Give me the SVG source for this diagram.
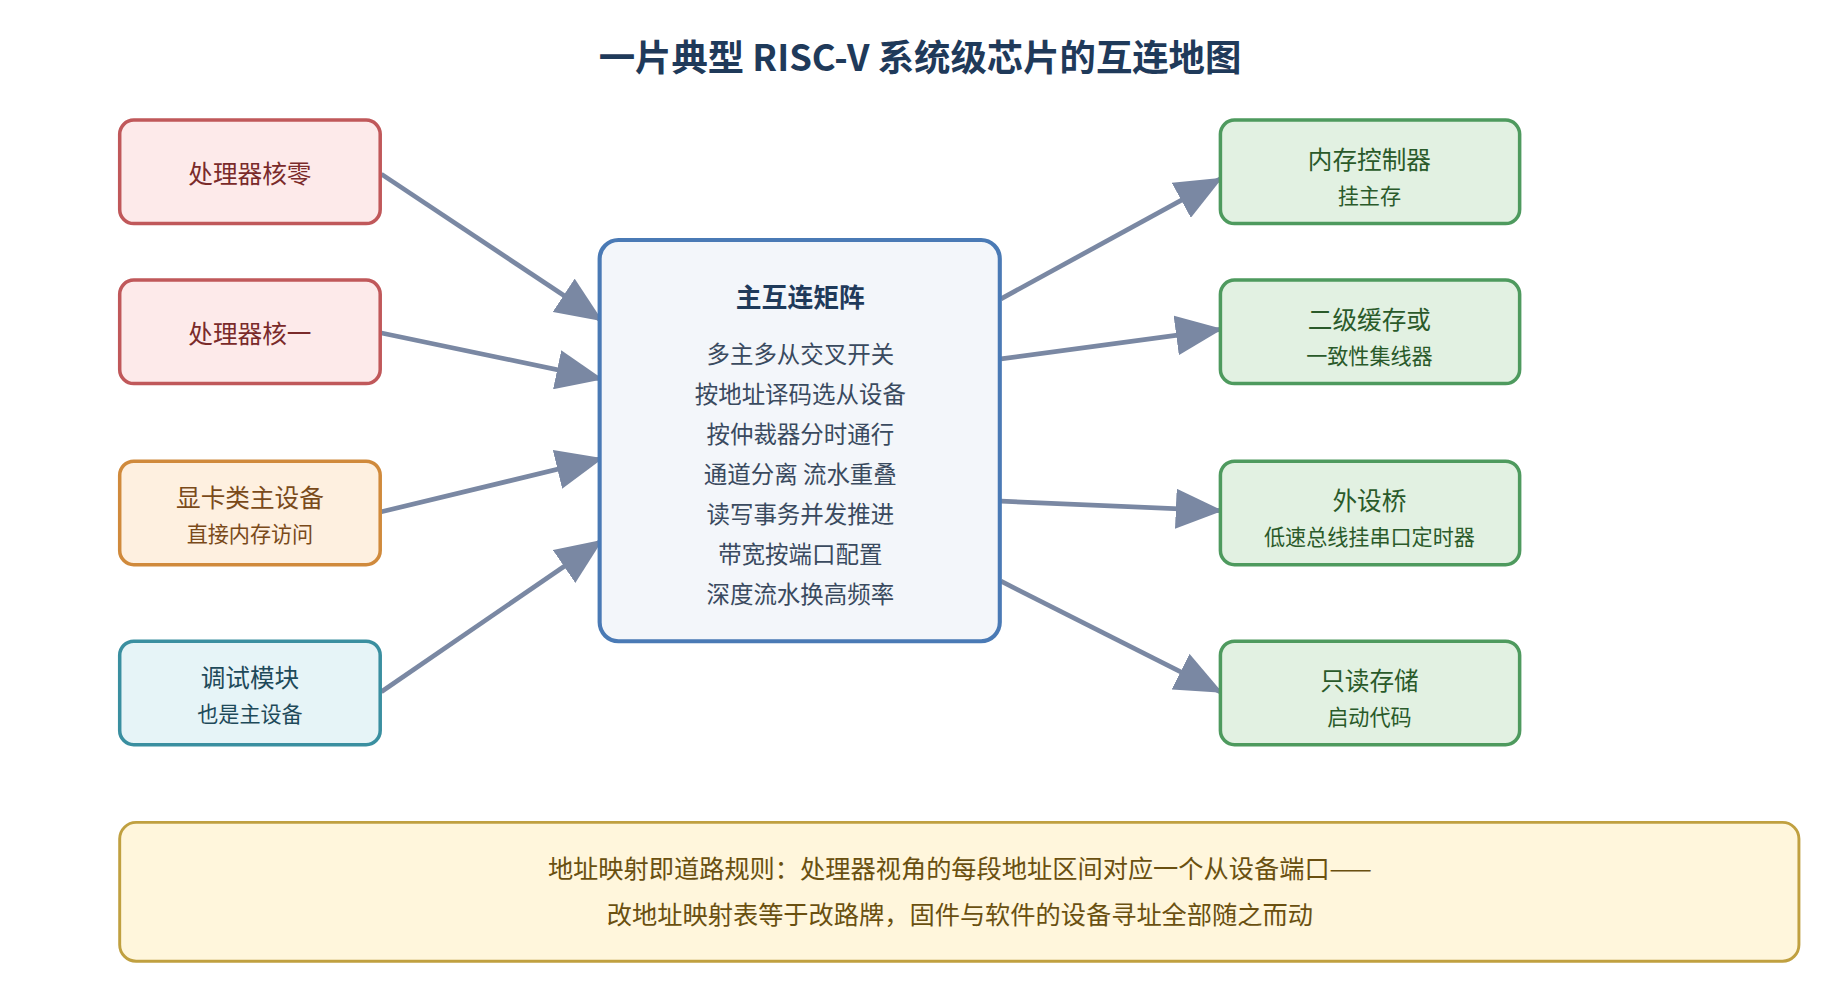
<svg xmlns="http://www.w3.org/2000/svg" width="1840" height="1000" viewBox="0 0 1840 1000">
<style>
text{font-family:"Noto Sans CJK SC","Noto Sans",sans-serif;text-anchor:middle;dominant-baseline:central}
.b{stroke-width:3}
.m{font-size:21px}.s{font-size:18px}
.r rect{fill:#fdeaea;stroke:#c0585a}.r text{fill:#7a2a2a}
.o rect{fill:#fef0e0;stroke:#d08a3c}.o text{fill:#7a4a1a}
.t rect{fill:#e6f4f7;stroke:#3a8fa0}.t text{fill:#1e4a5a}
.g rect{fill:#e2f1e2;stroke:#4e9a5e}.g text{fill:#2a5a2a}
.c{fill:#3a4a5f;font-size:20px}
.n{font-size:21.5px;fill:#6a5010}
#edges line{stroke:#7a88a3;stroke-width:4;marker-end:url(#a)}
</style>
<defs><marker id="a" markerUnits="userSpaceOnUse" markerWidth="40" markerHeight="34" refX="38" refY="17" orient="auto"><path d="M0,0 L40,17 L0,34 Z" fill="#7a88a3"/></marker></defs>
<rect width="1840" height="1000" fill="#fff"/>
<g transform="scale(1.17347 1.1765)">
<text x="784" y="47" style="font-size:31px;font-weight:bold;fill:#1f3a5a">一片典型 RISC-V 系统级芯片的互连地图</text>
<g id="edges">
<line x1="325" y1="148" x2="512" y2="272"/>
<line x1="325" y1="283" x2="512" y2="322"/>
<line x1="325" y1="435" x2="512" y2="390"/>
<line x1="325" y1="588" x2="512" y2="460"/>
<line x1="853" y1="254" x2="1040" y2="152"/>
<line x1="853" y1="305" x2="1040" y2="280"/>
<line x1="853" y1="426" x2="1040" y2="434"/>
<line x1="853" y1="494" x2="1040" y2="588"/>
</g>
<g id="core0" class="r"><rect class="b" x="102" y="102" width="222" height="88" rx="12"/><text class="m" x="213" y="146">处理器核零</text></g>
<g id="core1" class="r"><rect class="b" x="102" y="238" width="222" height="88" rx="12"/><text class="m" x="213" y="282">处理器核一</text></g>
<g id="gpu" class="o"><rect class="b" x="102" y="392" width="222" height="88" rx="12"/><text class="m" x="213" y="422">显卡类主设备</text><text class="s" x="213" y="453">直接内存访问</text></g>
<g id="debug" class="t"><rect class="b" x="102" y="545" width="222" height="88" rx="12"/><text class="m" x="213" y="575">调试模块</text><text class="s" x="213" y="606">也是主设备</text></g>
<g id="matrix"><rect x="511" y="204" width="341" height="341" rx="16" fill="#f3f6fa" stroke="#4a7ab5" stroke-width="3.5"/>
<text x="682" y="251" style="font-size:22px;font-weight:bold;fill:#1f3a5a">主互连矩阵</text>
<text class="c" x="682" y="300">多主多从交叉开关</text>
<text class="c" x="682" y="334">按地址译码选从设备</text>
<text class="c" x="682" y="368">按仲裁器分时通行</text>
<text class="c" x="682" y="402">通道分离 流水重叠</text>
<text class="c" x="682" y="436">读写事务并发推进</text>
<text class="c" x="682" y="470">带宽按端口配置</text>
<text class="c" x="682" y="504">深度流水换高频率</text></g>
<g id="mem" class="g"><rect class="b" x="1040" y="102" width="255" height="88" rx="12"/><text class="m" x="1167" y="134">内存控制器</text><text class="s" x="1167" y="165">挂主存</text></g>
<g id="l2" class="g"><rect class="b" x="1040" y="238" width="255" height="88" rx="12"/><text class="m" x="1167" y="270">二级缓存或</text><text class="s" x="1167" y="301">一致性集线器</text></g>
<g id="bridge" class="g"><rect class="b" x="1040" y="392" width="255" height="88" rx="12"/><text class="m" x="1167" y="424">外设桥</text><text class="s" x="1167" y="455">低速总线挂串口定时器</text></g>
<g id="rom" class="g"><rect class="b" x="1040" y="545" width="255" height="88" rx="12"/><text class="m" x="1167" y="577">只读存储</text><text class="s" x="1167" y="608">启动代码</text></g>
<g id="note"><rect x="102" y="699" width="1431" height="118" rx="14" fill="#fff6dc" stroke="#c0a040" stroke-width="2.5"/>
<text class="n" x="818" y="737">地址映射即道路规则：处理器视角的每段地址区间对应一个从设备端口——</text>
<text class="n" x="818" y="776">改地址映射表等于改路牌，固件与软件的设备寻址全部随之而动</text></g>
</g>
</svg>
